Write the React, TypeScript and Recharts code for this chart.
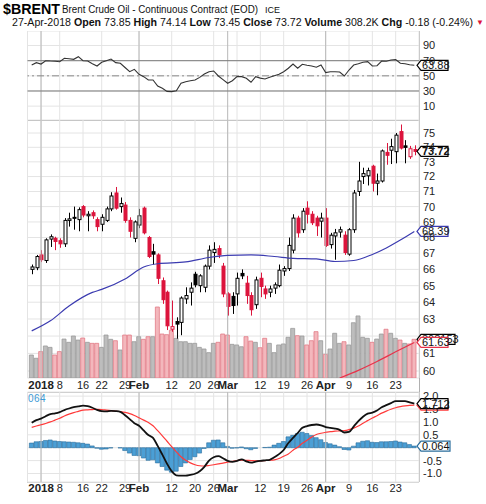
import React from "react";
import {
  ComposedChart,
  Bar,
  Line,
  XAxis,
  YAxis,
  CartesianGrid,
  ReferenceLine,
  ReferenceDot,
  Cell,
} from "recharts";

// trading days shown on the chart
const dates = [
  "2017-12-28", "2017-12-29",
  "2018-01-02", "2018-01-03", "2018-01-04", "2018-01-05", "2018-01-08", "2018-01-09", "2018-01-10",
  "2018-01-11", "2018-01-12", "2018-01-16", "2018-01-17", "2018-01-18", "2018-01-19", "2018-01-22",
  "2018-01-23", "2018-01-24", "2018-01-25", "2018-01-26", "2018-01-29", "2018-01-30", "2018-01-31",
  "2018-02-01", "2018-02-02", "2018-02-05", "2018-02-06", "2018-02-07", "2018-02-08", "2018-02-09",
  "2018-02-12", "2018-02-13", "2018-02-14", "2018-02-15", "2018-02-16", "2018-02-20", "2018-02-21",
  "2018-02-22", "2018-02-23", "2018-02-26", "2018-02-27", "2018-02-28",
  "2018-03-01", "2018-03-02", "2018-03-05", "2018-03-06", "2018-03-07", "2018-03-08", "2018-03-09",
  "2018-03-12", "2018-03-13", "2018-03-14", "2018-03-15", "2018-03-16", "2018-03-19", "2018-03-20",
  "2018-03-21", "2018-03-22", "2018-03-23", "2018-03-26", "2018-03-27", "2018-03-28", "2018-03-29",
  "2018-04-02", "2018-04-03", "2018-04-04", "2018-04-05", "2018-04-06", "2018-04-09", "2018-04-10",
  "2018-04-11", "2018-04-12", "2018-04-13", "2018-04-16", "2018-04-17", "2018-04-18", "2018-04-19",
  "2018-04-20", "2018-04-23", "2018-04-24", "2018-04-25", "2018-04-26", "2018-04-27",
];

const opens = [
  66.0, 66.1, 66.9, 66.55, 67.9, 67.95, 67.8, 67.6, 69.1, 69.3,
  69.15, 70.0, 69.4, 69.6, 69.15, 68.85, 69.1, 69.85, 70.9, 70.0,
  70.1, 69.1, 67.95, 68.8, 69.9, 68.0, 67.1, 66.9, 65.3, 64.6,
  62.4, 62.85, 62.8, 64.2, 64.6, 65.7, 65.0, 64.9, 66.2, 67.05,
  67.3, 66.2, 64.5, 64.35, 64.5, 65.75, 65.15, 64.4, 63.85, 65.45,
  64.8, 64.6, 64.85, 65.0, 65.9, 66.05, 67.2, 69.25, 68.5, 69.9,
  69.5, 69.25, 69.05, 69.25, 67.55, 68.1, 68.35, 68.15, 66.95, 68.5,
  71.0, 72.0, 72.05, 72.7, 71.55, 71.7, 73.65, 73.8, 73.7, 75.1,
  74.1, 73.35, 73.85,
];
const highs = [
  66.3, 66.9, 67.2, 67.95, 68.2, 68.05, 67.95, 69.25, 69.6, 70.0,
  69.95, 70.1, 69.7, 69.75, 69.3, 69.5, 70.0, 70.95, 71.3, 70.6,
  70.3, 69.3, 69.1, 69.85, 70.0, 68.1, 67.6, 67.0, 65.5, 64.7,
  64.1, 63.1, 64.35, 64.9, 65.2, 65.85, 65.7, 66.3, 67.5, 67.7,
  67.5, 66.4, 64.6, 64.6, 65.8, 66.0, 65.6, 64.6, 65.55, 65.8,
  65.0, 65.0, 65.2, 66.3, 66.2, 68.0, 69.5, 69.4, 69.9, 70.35,
  69.7, 69.4, 69.6, 69.9, 68.3, 68.55, 68.7, 68.4, 68.6, 71.1,
  73.0, 72.6, 72.6, 72.8, 72.2, 73.85, 74.3, 74.6, 75.0, 75.6,
  74.5, 74.1, 74.14,
];
const lows = [
  65.7, 65.95, 66.45, 66.4, 67.4, 67.2, 67.35, 67.4, 68.7, 68.5,
  68.4, 69.3, 68.4, 69.2, 68.4, 68.4, 69.0, 69.7, 69.8, 69.6,
  68.95, 68.0, 67.7, 68.6, 68.2, 66.7, 66.3, 65.1, 63.9, 62.35,
  62.25, 61.85, 62.05, 63.9, 63.8, 64.9, 64.6, 64.6, 66.0, 66.4,
  66.7, 64.3, 63.2, 63.3, 63.8, 65.4, 63.9, 63.2, 63.6, 64.3,
  64.2, 64.3, 64.5, 64.9, 65.6, 65.9, 67.0, 68.0, 68.3, 68.9,
  68.8, 68.1, 68.0, 67.4, 67.3, 66.6, 68.0, 66.9, 66.85, 68.3,
  70.7, 71.5, 71.4, 71.0, 70.75, 71.6, 72.8, 72.85, 72.9, 73.85,
  72.9, 73.2, 73.45,
];
const closes = [
  66.15, 66.8, 66.6, 67.85, 68.05, 67.75, 67.6, 69.1, 69.2, 69.25,
  69.8, 69.45, 69.5, 69.4, 68.7, 69.3, 69.85, 70.7, 69.9, 70.2,
  69.1, 68.4, 69.0, 69.4, 68.3, 66.8, 66.95, 65.45, 64.15, 62.6,
  62.55, 62.7, 64.25, 64.4, 64.85, 65.05, 65.6, 66.2, 67.2, 67.25,
  66.9, 64.5, 63.75, 63.8, 65.45, 65.6, 64.4, 63.55, 65.35, 64.95,
  64.5, 64.8, 65.05, 65.95, 66.05, 67.5, 69.25, 68.3, 69.7, 69.5,
  68.95, 68.75, 69.25, 67.5, 68.15, 68.3, 68.5, 67.05, 68.5, 70.9,
  71.7, 72.2, 72.4, 71.55, 71.7, 73.75, 73.45, 74.05, 74.85, 73.95,
  74.0, 73.9, 73.72,
];
// volume, thousands
const volumes = [
  183, 157, 210, 255, 244, 183, 210, 310, 284, 334,
  302, 318, 284, 276, 276, 244, 342, 308, 297, 223,
  342, 342, 289, 329, 308, 329, 329, 565, 350, 345,
  380, 316, 289, 289, 276, 276, 244, 231, 202, 276,
  284, 350, 342, 268, 263, 249, 329, 294, 284, 241,
  316, 276, 202, 263, 271, 324, 395, 337, 334, 263,
  297, 369, 297, 188, 231, 356, 276, 289, 263, 440,
  494, 324, 316, 284, 310, 350, 388, 356, 316, 302,
  276, 271, 308,
];
const rsi = [
  64.3, 67.4, 65.6, 70, 69.5, 69.2, 68.7, 73.2, 72.5, 71.8,
  75.3, 70, 69.6, 66, 63, 67.9, 70, 72.2, 67.4, 66.6,
  61, 55.5, 58.6, 52, 48.9, 44.5, 44.5, 36.6, 33.5, 29.5,
  29.2, 30.4, 40.2, 42.3, 43.5, 44.5, 48, 52.5, 55.5, 56.4,
  49.8, 45, 40.2, 43.5, 48.9, 48.9, 46.8, 41.5, 48.9, 47,
  45.8, 48.1, 50, 52, 55.5, 60, 65.6, 60, 65.2, 64,
  63, 61.3, 64.3, 54.2, 55.5, 55.5, 55.1, 49.8, 57.7, 64.3,
  66, 67.9, 68.7, 63, 63.4, 69.6, 69.2, 70.9, 71.5, 66.6,
  66, 64.7, 63.88,
];
const macd = [
  0.97, 1.07, 1.13, 1.22, 1.3, 1.33, 1.38, 1.46, 1.52, 1.57,
  1.6, 1.63, 1.61, 1.55, 1.47, 1.42, 1.41, 1.43, 1.42, 1.39,
  1.26, 1.11, 0.95, 0.85, 0.67, 0.49, 0.38, 0.07, -0.27, -0.62,
  -0.91, -1.07, -1.08, -1.08, -1.05, -1.01, -0.91, -0.74, -0.5, -0.37,
  -0.33, -0.41, -0.51, -0.55, -0.51, -0.45, -0.53, -0.58, -0.54, -0.51,
  -0.49, -0.47, -0.37, -0.25, -0.09, 0.18, 0.38, 0.57, 0.77, 0.84,
  0.88, 0.9, 0.87, 0.8, 0.77, 0.74, 0.69, 0.59, 0.61, 0.82,
  1.03, 1.2, 1.32, 1.36, 1.44, 1.57, 1.65, 1.73, 1.81, 1.81,
  1.81, 1.76, 1.712,
];
const signal = [
  0.79, 0.84, 0.89, 0.94, 1.0, 1.07, 1.14, 1.23, 1.3, 1.36,
  1.41, 1.46, 1.47, 1.48, 1.49, 1.48, 1.46, 1.44, 1.42, 1.4,
  1.37, 1.32, 1.25, 1.16, 1.07, 0.98, 0.85, 0.66, 0.46, 0.25,
  0.04, -0.16, -0.35, -0.49, -0.59, -0.66, -0.7, -0.71, -0.69, -0.66,
  -0.63, -0.6, -0.56, -0.53, -0.5, -0.48, -0.49, -0.5, -0.51, -0.51,
  -0.5, -0.49, -0.47, -0.42, -0.33, -0.24, -0.1, 0.02, 0.17, 0.29,
  0.41, 0.51, 0.56, 0.6, 0.62, 0.64, 0.65, 0.66, 0.7, 0.76,
  0.84, 0.95, 1.05, 1.15, 1.24, 1.34, 1.42, 1.49, 1.55, 1.59,
  1.62, 1.64, 1.648,
];

// moving averages read at a few days
const ma50Dates = [
  "2017-12-28", "2018-01-04", "2018-01-10", "2018-01-18", "2018-01-22", "2018-01-29", "2018-02-02",
  "2018-02-07", "2018-02-15", "2018-02-23", "2018-03-01", "2018-03-08", "2018-03-15", "2018-03-21",
  "2018-03-28", "2018-04-04", "2018-04-10", "2018-04-16", "2018-04-19", "2018-04-24", "2018-04-27",
];
const ma50Values = [
  62.3, 62.89, 63.77, 64.59, 64.77, 65.41, 66.15,
  66.35, 66.46, 66.74, 66.87, 66.9, 66.8, 66.69,
  66.65, 66.49, 66.55, 66.93, 67.34, 67.84, 68.39,
];
const ma200Dates = ["2018-04-05", "2018-04-11", "2018-04-17", "2018-04-23", "2018-04-27"];
const ma200Values = [59.61, 60.04, 60.54, 61.09, 61.63];

// x axis
const gridDates = [
  "2018-01-02", "2018-01-08", "2018-01-16", "2018-01-22", "2018-01-29", "2018-02-01",
  "2018-02-12", "2018-02-20", "2018-02-26", "2018-03-01", "2018-03-05", "2018-03-12",
  "2018-03-19", "2018-03-26", "2018-04-02", "2018-04-09", "2018-04-16", "2018-04-23",
];
const gridLabels = [
  "2018", "8", "16", "22", "29", "Feb", "12", "20", "26", "Mar", "", "12", "19", "26", "Apr", "9", "16", "23",
];
const monthLabels = ["2018", "Feb", "Mar", "Apr"];

const priceTicks = [60, 61, 62, 63, 64, 65, 66, 67, 68, 69, 70, 71, 72, 73, 74, 75];
const rsiTicks = [10, 30, 50, 70, 90];
const macdTicks = [-1, -0.5, 0, 0.5, 1, 1.5, 2];

const FONT = "'Liberation Sans', Arial, Helvetica, sans-serif";
const RED = "#dc143c";
const W = 486;
const LEFT = 27.5;
const AXIS_W = 67;
const X_DOMAIN: [number, number] = [-0.9, 83];
const LAST = dates.length - 1;

const idx = (d: string) => dates.indexOf(d);
const gridTicks = gridDates.map(idx);

const rows: any[] = dates.map((d, i) => {
  const prev = i > 0 ? closes[i - 1] : opens[i];
  const down = closes[i] < prev;
  return {
    i,
    date: d,
    range: [lows[i], highs[i]],
    open: opens[i],
    high: highs[i],
    low: lows[i],
    close: closes[i],
    color: down ? RED : "#000",
    hollow: closes[i] >= opens[i],
    volume: volumes[i],
    volDown: down,
    rsi: rsi[i],
    macd: macd[i],
    signal: signal[i],
    hist: +(macd[i] - signal[i]).toFixed(3),
    ma50: null,
    ma200: null,
  };
});
ma50Dates.forEach((d, k) => (rows[idx(d)].ma50 = ma50Values[k]));
ma200Dates.forEach((d, k) => (rows[idx(d)].ma200 = ma200Values[k]));

const Candle = (p: any) => {
  const { x, y, width, height, payload } = p;
  if (x == null || y == null || !payload) return <g />;
  const { open, close, high, low, color, hollow } = payload;
  const h = Math.abs(height);
  const top = height < 0 ? y + height : y;
  const lh = Math.log(high);
  const ll = Math.log(low);
  const py = (v: number) => (lh === ll ? top : top + ((lh - Math.log(v)) / (lh - ll)) * h);
  const cx = Math.round(x + width / 2) + 0.5;
  const yo = py(open);
  const yc = py(close);
  const bTop = Math.min(yo, yc);
  const bH = Math.max(1, Math.abs(yo - yc));
  return (
    <g>
      <line x1={cx} x2={cx} y1={top} y2={top + h} stroke={color} strokeWidth={1} />
      <rect x={cx - 1.5} y={bTop} width={3} height={bH} fill={hollow ? "#fff" : color} stroke={color} strokeWidth={1} />
    </g>
  );
};

const tag = (text: string, stroke: string, w: number, weight = 400) => (p: any) => {
  const { cx, cy } = p;
  if (cx == null || cy == null) return <g />;
  const x0 = cx - 2;
  return (
    <g>
      <path
        d={`M${x0},${cy} L${x0 + 4},${cy - 5} H${x0 + 4 + w} V${cy + 5} H${x0 + 4} Z`}
        fill="#fff"
        stroke={stroke}
        strokeWidth={1.2}
      />
      <text x={x0 + 5} y={cy + 4} fontSize={11} fontWeight={weight} fill="#111" fontFamily={FONT}>
        {text}
      </text>
    </g>
  );
};

const DateTick = (p: any) => {
  const { x, y, payload, dy } = p;
  const lbl = gridLabels[gridTicks.indexOf(payload.value)] || "";
  const bold = monthLabels.includes(lbl);
  return (
    <text
      x={x}
      y={y}
      dy={dy}
      textAnchor="middle"
      fontSize={bold ? 11.5 : 11}
      fontWeight={bold ? 700 : 400}
      fill="#222"
      fontFamily={FONT}
    >
      {lbl}
    </text>
  );
};

const yTick = { fontSize: 11, fill: "#222", fontFamily: FONT };

const monthLines = (yId: string) =>
  ["2018-01-02", "2018-02-01", "2018-03-01", "2018-04-02"].map((d) => (
    <ReferenceLine key={d} xAxisId="x" yAxisId={yId} x={idx(d)} stroke="#b8b8b8" />
  ));

export default function App() {
  return (
    <div
      style={{
        position: "fixed",
        left: 0,
        top: 0,
        width: W,
        height: 504,
        background: "#fff",
        overflow: "hidden",
        fontFamily: FONT,
      }}
    >
      <svg width={W} height={31} style={{ position: "absolute", left: 0, top: 0 }}>
        <text x={3} y={13.5} fontSize={14.5} fontWeight={700} textLength={57} lengthAdjust="spacingAndGlyphs" fontFamily={FONT}>
          $BRENT
        </text>
        <text x={62} y={13} fontSize={10} textLength={196} lengthAdjust="spacingAndGlyphs" fontFamily={FONT} fill="#111">
          Brent Crude Oil - Continuous Contract (EOD)
        </text>
        <text x={265} y={13} fontSize={9} fontFamily={FONT} fill="#111">
          ICE
        </text>
        <text x={12} y={25.5} fontSize={10.5} textLength={461} lengthAdjust="spacingAndGlyphs" fontFamily={FONT} fill="#111">
          27-Apr-2018 <tspan fontWeight={700}>Open</tspan> 73.85 <tspan fontWeight={700}>High</tspan> 74.14{" "}
          <tspan fontWeight={700}>Low</tspan> 73.45 <tspan fontWeight={700}>Close</tspan> 73.72{" "}
          <tspan fontWeight={700}>Volume</tspan> 308.2K <tspan fontWeight={700}>Chg</tspan> -0.18 (-0.24%)
        </text>
        <text x={476} y={24.5} fontSize={8} fill={RED} fontFamily={FONT}>
          ▼
        </text>
      </svg>

      {/* panel frames */}
      <div style={{ position: "absolute", left: 418.5, top: 31, width: 1, height: 451, background: "#b0b0b0" }} />
      <div style={{ position: "absolute", left: 27, top: 119.5, width: 392, height: 1, background: "#a8a8a8" }} />
      <div style={{ position: "absolute", left: 27, top: 391.5, width: 392, height: 1, background: "#bdbdbd" }} />
      <div style={{ position: "absolute", left: 27, top: 481.5, width: 392, height: 1, background: "#cfcfcf" }} />

      {/* RSI */}
      <div style={{ position: "absolute", left: 0, top: 31 }}>
        <ComposedChart width={W} height={89} data={rows} margin={{ top: 0, right: 0, bottom: 0, left: LEFT }}>
          <CartesianGrid stroke="#e4e4e4" xAxisId="x" yAxisId="r" />
          <XAxis xAxisId="x" dataKey="i" type="number" domain={X_DOMAIN} ticks={gridTicks} hide allowDataOverflow />
          <YAxis
            yAxisId="r"
            orientation="right"
            width={AXIS_W}
            domain={[-8.3, 109.2]}
            ticks={rsiTicks}
            interval={0}
            tickSize={0}
            tickMargin={4}
            axisLine={false}
            tick={yTick}
            allowDataOverflow
          />
          {monthLines("r")}
          <ReferenceLine xAxisId="x" yAxisId="r" y={70} stroke="#7a7a7a" />
          <ReferenceLine xAxisId="x" yAxisId="r" y={30} stroke="#7a7a7a" />
          <ReferenceLine xAxisId="x" yAxisId="r" y={50} stroke="#8a8a8a" strokeDasharray="7 3 2 3" />
          <Line
            xAxisId="x"
            yAxisId="r"
            dataKey="rsi"
            stroke="#333"
            strokeWidth={1.1}
            dot={false}
            isAnimationActive={false}
          />
          <ReferenceDot
            xAxisId="x"
            yAxisId="r"
            x={X_DOMAIN[1]}
            y={rsi[LAST]}
            r={0}
            ifOverflow="visible"
            shape={tag(rsi[LAST].toFixed(2), "#000", 27)}
          />
        </ComposedChart>
      </div>

      {/* price + volume */}
      <div style={{ position: "absolute", left: 0, top: 120 }}>
        <ComposedChart width={W} height={272} data={rows} margin={{ top: 0, right: 0, bottom: 0, left: LEFT }}>
          <CartesianGrid stroke="#e4e4e4" xAxisId="x" yAxisId="p" />
          <XAxis
            xAxisId="x"
            dataKey="i"
            type="number"
            domain={X_DOMAIN}
            ticks={gridTicks}
            interval={0}
            height={14}
            tickSize={0}
            tickMargin={0}
            axisLine={false}
            tick={(props: any) => <DateTick {...props} dy={11} />}
            allowDataOverflow
          />
          <XAxis xAxisId="xv" dataKey="i" type="number" domain={X_DOMAIN} hide allowDataOverflow />
          <YAxis
            yAxisId="p"
            orientation="right"
            width={AXIS_W}
            scale="log"
            domain={[59.61, 75.92]}
            ticks={priceTicks}
            interval={0}
            tickFormatter={(v: number) => (v === 62 ? "" : String(v))}
            tickSize={0}
            tickMargin={4}
            axisLine={false}
            tick={yTick}
            allowDataOverflow
          />
          <YAxis yAxisId="vol" hide domain={[0, 2054]} allowDataOverflow />
          {monthLines("p")}
          <Bar xAxisId="xv" yAxisId="vol" dataKey="volume" barSize={4} isAnimationActive={false}>
            {rows.map((r) => (
              <Cell
                key={r.i}
                fill={r.volDown ? "#f3b7bc" : "#bdbdbd"}
                stroke={r.volDown ? "#e27c88" : "#9a9a9a"}
                strokeWidth={0.8}
              />
            ))}
          </Bar>
          <Line
            xAxisId="x"
            yAxisId="p"
            dataKey="ma50"
            type="monotone"
            connectNulls
            stroke="#3b3bb0"
            strokeWidth={1.2}
            dot={false}
            isAnimationActive={false}
          />
          <Line
            xAxisId="x"
            yAxisId="p"
            dataKey="ma200"
            type="monotone"
            connectNulls
            stroke="#e8324a"
            strokeWidth={1.2}
            dot={false}
            isAnimationActive={false}
          />
          <Bar xAxisId="x" yAxisId="p" dataKey="range" barSize={3} shape={<Candle />} isAnimationActive={false} />
          <ReferenceDot
            xAxisId="xv"
            yAxisId="vol"
            x={X_DOMAIN[1]}
            y={volumes[LAST]}
            r={0}
            ifOverflow="visible"
            shape={tag("308153", "#000", 34)}
          />
          <ReferenceDot
            xAxisId="x"
            yAxisId="p"
            x={X_DOMAIN[1]}
            y={ma200Values[ma200Values.length - 1]}
            r={0}
            ifOverflow="visible"
            shape={tag(ma200Values[ma200Values.length - 1].toFixed(2), "#e8324a", 27)}
          />
          <ReferenceDot
            xAxisId="x"
            yAxisId="p"
            x={X_DOMAIN[1]}
            y={ma50Values[ma50Values.length - 1]}
            r={0}
            ifOverflow="visible"
            shape={tag(ma50Values[ma50Values.length - 1].toFixed(2), "#3b3bb0", 27)}
          />
          <ReferenceDot
            xAxisId="x"
            yAxisId="p"
            x={X_DOMAIN[1]}
            y={closes[LAST]}
            r={0}
            ifOverflow="visible"
            shape={tag(closes[LAST].toFixed(2), "#000", 27, 700)}
          />
        </ComposedChart>
      </div>

      {/* MACD */}
      <div style={{ position: "absolute", left: 0, top: 384 }}>
        <ComposedChart width={W} height={112} data={rows} margin={{ top: 8, right: 0, bottom: 0, left: LEFT }}>
          <CartesianGrid stroke="#e4e4e4" xAxisId="x" yAxisId="m" />
          <XAxis
            xAxisId="x"
            dataKey="i"
            type="number"
            domain={X_DOMAIN}
            ticks={gridTicks}
            interval={0}
            height={14}
            tickSize={0}
            tickMargin={0}
            axisLine={false}
            tick={(props: any) => <DateTick {...props} dy={10} />}
            allowDataOverflow
          />
          <YAxis
            yAxisId="m"
            orientation="right"
            width={AXIS_W}
            domain={[-1.33, 2.16]}
            ticks={macdTicks}
            interval={0}
            tickFormatter={(v: number) => (v === 0 ? "" : v.toFixed(1))}
            tickSize={0}
            tickMargin={4}
            axisLine={false}
            tick={yTick}
            allowDataOverflow
          />
          {monthLines("m")}
          <Bar
            xAxisId="x"
            yAxisId="m"
            dataKey="hist"
            barSize={5}
            fill="#4b9fd5"
            stroke="#2a6d9c"
            strokeWidth={0.6}
            isAnimationActive={false}
          />
          <Line
            xAxisId="x"
            yAxisId="m"
            dataKey="signal"
            type="monotone"
            stroke="#ff3a3a"
            strokeWidth={1.2}
            dot={false}
            isAnimationActive={false}
          />
          <Line
            xAxisId="x"
            yAxisId="m"
            dataKey="macd"
            type="monotone"
            stroke="#111"
            strokeWidth={1.8}
            dot={false}
            isAnimationActive={false}
          />
          <ReferenceDot
            xAxisId="x"
            yAxisId="m"
            x={X_DOMAIN[1]}
            y={signal[LAST]}
            r={0}
            ifOverflow="visible"
            shape={tag(signal[LAST].toFixed(3), "#ff3a3a", 27)}
          />
          <ReferenceDot
            xAxisId="x"
            yAxisId="m"
            x={X_DOMAIN[1]}
            y={macd[LAST]}
            r={0}
            ifOverflow="visible"
            shape={tag(macd[LAST].toFixed(3), "#000", 27)}
          />
          <ReferenceDot
            xAxisId="x"
            yAxisId="m"
            x={X_DOMAIN[1]}
            y={rows[LAST].hist}
            r={0}
            ifOverflow="visible"
            shape={tag(rows[LAST].hist.toFixed(3), "#2a6d9c", 29)}
          />
        </ComposedChart>
      </div>
      <div style={{ position: "absolute", left: 28, top: 393, fontSize: 10, color: "#3d9bd6", letterSpacing: 0.5 }}>
        064
      </div>
    </div>
  );
}
